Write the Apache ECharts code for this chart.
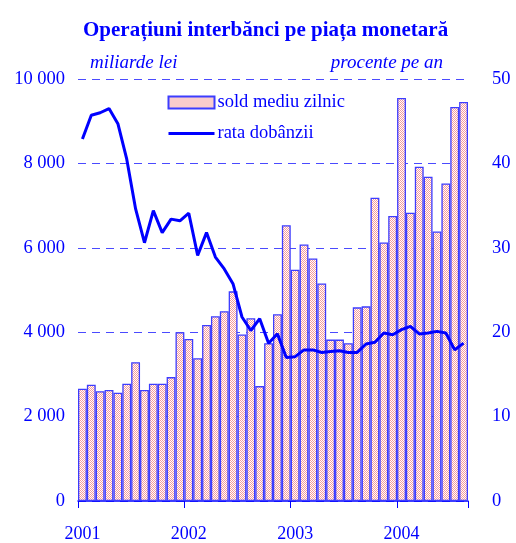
<!DOCTYPE html>
<html>
<head>
<meta charset="utf-8">
<script src="https://cdn.jsdelivr.net/npm/echarts@6/dist/echarts.min.js"></script>
<style>
  html, body { margin: 0; padding: 0; background: #ffffff; }
  #chart { width: 516px; height: 543px; }
</style>
</head>
<body>
<div id="chart"></div>
<script>
// luni: ian 2001 - aug 2004
var months = [];
for (var y = 2001; y <= 2004; y++) {
    for (var m = 1; m <= 12; m++) {
        if (y === 2004 && m > 8) break;
        months.push(y + '-' + (m < 10 ? '0' + m : m));
    }
}

// sold mediu zilnic (miliarde lei)
var soldMediu = [
    2660, 2755, 2600, 2630, 2565, 2780, 3290, 2630, 2780, 2780, 2936, 4000,
    3840, 3385, 4172, 4377, 4495, 4968, 3944, 4330, 2723, 3739, 4424, 6534,
    5479, 6077, 5746, 5156, 3825, 3825, 3739, 4589, 4613, 7188, 6125, 6754,
    9550, 6833, 7920, 7684, 6385, 7526, 9338, 9455
];

// rata dobanzii (procente pe an)
var rataDobanzii = [
    42.9, 45.7, 46.0, 46.5, 44.7, 40.5, 34.6, 30.6, 34.4, 31.8, 33.4, 33.2,
    34.1, 29.1, 31.8, 28.9, 27.5, 25.7, 21.8, 20.2, 21.6, 18.7, 19.8, 17.0,
    17.1, 17.9, 17.9, 17.6, 17.7, 17.8, 17.6, 17.6, 18.6, 18.8, 19.9, 19.7,
    20.3, 20.7, 19.8, 19.9, 20.1, 19.9, 17.9, 18.7
];

var leftTicks = ['0', '2 000', '4 000', '6 000', '8 000', '10 000'];
var rightTicks = ['0', '10', '20', '30', '40', '50'];

var BLUE = '#0000ff';
var FONT = '"Liberation Serif", "Times New Roman", serif';

function patternFill() {
    var c = document.createElement('canvas');
    c.width = 2;
    c.height = 2;
    var ctx = c.getContext('2d');
    ctx.fillStyle = '#ffffff';
    ctx.fillRect(0, 0, 2, 2);
    ctx.fillStyle = '#f59a9a';
    ctx.fillRect(0, 0, 1, 1);
    ctx.fillRect(1, 1, 1, 1);
    return { image: c, repeat: 'repeat' };
}

var chart = echarts.init(document.getElementById('chart'));

chart.setOption({
    backgroundColor: '#ffffff',
    animation: false,
    title: {
        text: 'Operațiuni interbănci pe piața monetară',
        left: 78,
        top: 15,
        textStyle: {
            color: BLUE,
            fontFamily: FONT,
            fontSize: 21,
            fontWeight: 'bold'
        }
    },
    legend: {
        orient: 'vertical',
        left: 162,
        top: 88,
        itemWidth: 46,
        itemHeight: 12,
        itemGap: 12,
        textStyle: {
            color: BLUE,
            fontFamily: FONT,
            fontSize: 18.5,
            padding: [0, 0, 0, -2]
        },
        data: [
            { name: 'sold mediu zilnic', icon: 'rect' },
            { name: 'rata dobânzii', itemStyle: { opacity: 0 }, lineStyle: { width: 3 } }
        ]
    },
    grid: {
        left: 78,
        right: 48,
        top: 79,
        bottom: 40,
        containLabel: false
    },
    xAxis: {
        type: 'category',
        data: months,
        boundaryGap: true,
        axisLine: { lineStyle: { color: BLUE, width: 1.5 } },
        axisTick: {
            show: true,
            alignWithLabel: false,
            length: 7,
            interval: function (index) { return index % 12 === 0; },
            lineStyle: { color: BLUE, width: 1 }
        },
        axisLabel: {
            interval: function (index) { return index % 12 === 0; },
            formatter: function (value) { return value.slice(0, 4); },
            color: BLUE,
            fontFamily: FONT,
            fontSize: 18,
            margin: 24
        },
        splitLine: { show: false }
    },
    yAxis: [
        {
            type: 'value',
            min: 0,
            max: 10000,
            interval: 2000,
            name: 'miliarde lei',
            nameLocation: 'end',
            nameGap: 7,
            nameTextStyle: {
                color: BLUE,
                fontFamily: FONT,
                fontStyle: 'italic',
                fontSize: 19,
                align: 'left',
                padding: [0, 0, 0, 12]
            },
            axisLine: { show: false },
            axisTick: { show: false },
            axisLabel: {
                color: BLUE,
                fontFamily: FONT,
                fontSize: 18.5,
                margin: 13,
                formatter: function (v) { return leftTicks[Math.round(v / 2000)]; }
            },
            splitLine: {
                show: true,
                lineStyle: { color: '#4a4aff', type: [8, 6], width: 1 }
            }
        },
        {
            type: 'value',
            min: 0,
            max: 50,
            interval: 10,
            name: 'procente pe an',
            nameLocation: 'end',
            nameGap: 7,
            nameTextStyle: {
                color: BLUE,
                fontFamily: FONT,
                fontStyle: 'italic',
                fontSize: 19,
                align: 'right',
                padding: [0, 25, 0, 0]
            },
            axisLine: { show: false },
            axisTick: { show: false },
            axisLabel: {
                color: BLUE,
                fontFamily: FONT,
                fontSize: 18.5,
                margin: 24,
                formatter: function (v) { return rightTicks[Math.round(v / 10)]; }
            },
            splitLine: { show: false }
        }
    ],
    series: [
        {
            name: 'sold mediu zilnic',
            type: 'bar',
            yAxisIndex: 0,
            barCategoryGap: 0,
            data: soldMediu,
            itemStyle: {
                color: patternFill(),
                borderColor: '#3c3cff',
                borderWidth: 1.3
            }
        },
        {
            name: 'rata dobânzii',
            type: 'line',
            yAxisIndex: 1,
            data: rataDobanzii,
            symbol: 'none',
            lineStyle: { color: BLUE, width: 3 },
            itemStyle: { color: BLUE }
        }
    ]
});
</script>
</body>
</html>
